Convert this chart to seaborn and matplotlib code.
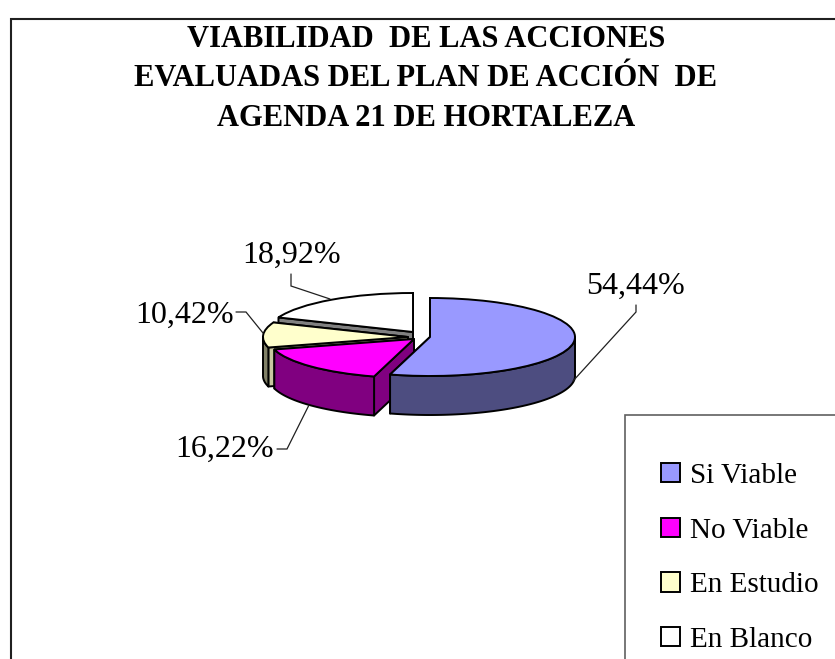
import numpy as np
import matplotlib
matplotlib.use("Agg")
import matplotlib.pyplot as plt
from matplotlib.patches import Polygon, Rectangle
import seaborn as sns

# ---- data ----
categories = ["Si Viable", "No Viable", "En Estudio", "En Blanco"]
values = [54.44, 16.22, 10.42, 18.92]
title_lines = ["VIABILIDAD  DE LAS ACCIONES",
               "EVALUADAS DEL PLAN DE ACCIÓN  DE",
               "AGENDA 21 DE HORTALEZA"]

# ---- styles ----
top_colors = ["#9999FF", "#FF00FF", "#FFFFCC", "#FFFFFF"]
wall_colors = ["#4D4D80", "#800080", "#808066", "#808080"]
cut_colors = ["#4D4D80", "#800080", "#C8C8A0", "#808080"]

# ---- layout (pixels) ----
W, H = 835, 659
CX, CY, RX, RY, DEPTH = 412.0, 336.0, 145.0, 39.0, 39.0
slice_shift = [(18, 1), (2, 3), (-4, 1), (1, -4)]
label_pos = [(636, 286), (225, 449), (185, 315), (292, 255)]
leaders = [[(573, 381), (636, 312), (636, 305)],
           [(309, 405), (287, 449), (277, 449)],
           [(263, 333), (246, 312), (236, 312)],
           [(330, 299), (291, 286), (291, 274)]]
legend_box = (625, 415)

sns.set_theme(style="white")
plt.rcParams["font.family"] = ["Liberation Serif", "DejaVu Serif"]

fig = plt.figure(figsize=(W / 100, H / 100), dpi=100)

# pixel-space layer: frame, title, labels, leaders
bg = fig.add_axes([0, 0, 1, 1], zorder=0)
bg.set_xlim(0, W)
bg.set_ylim(H, 0)
bg.axis("off")
bg.add_patch(Rectangle((11, 19), W + 20, H + 20, fc="white", ec="#202020", lw=1.5))
for i, line in enumerate(title_lines):
    bg.text(426, 39.5 + i * 39.5, line, ha="center", va="center",
            fontsize=22, fontweight="bold", color="black")

# pie layer: unit circle is squashed into the tilted ellipse
ax = fig.add_axes([0, 0, 1, 1], zorder=1)
ax.patch.set_alpha(0)
wedges, _ = ax.pie(values, startangle=90, counterclock=False, radius=1,
                   colors=sns.color_palette(top_colors),
                   wedgeprops=dict(edgecolor="black", linewidth=1.4))
ax.set_aspect("auto")
ax.set_xlim(-CX / RX, (W - CX) / RX)
ax.set_ylim((CY - H) / RY, CY / RY)
ax.axis("off")

edge = dict(edgecolor="black", linewidth=1.4, joinstyle="round")
d = DEPTH / RY
for i, w in enumerate(wedges):
    cx = w.center[0] + slice_shift[i][0] / RX
    cy = w.center[1] - slice_shift[i][1] / RY
    w.set_center((cx, cy))
    base = 10 + 10 * (len(wedges) - i)      # back slices first
    w.set_zorder(base + 3)
    t1, t2 = np.radians(w.theta1), np.radians(w.theta2)
    # radial cut faces
    for t in (t1, t2):
        px, py = cx + np.cos(t), cy + np.sin(t)
        ax.add_patch(Polygon([(cx, cy), (px, py), (px, py - d), (cx, cy - d)],
                             closed=True, fc=cut_colors[i], zorder=base + 1, **edge))
    # outer wall: only the front half of the rim shows
    th = np.linspace(t1, t2, 240)
    th = th[np.sin(th) <= 0]
    if th.size > 1:
        xs, ys = cx + np.cos(th), cy + np.sin(th)
        pts = np.r_[np.c_[xs, ys], np.c_[xs, ys - d][::-1]]
        ax.add_patch(Polygon(pts, closed=True, fc=wall_colors[i], zorder=base + 2, **edge))

# value labels and leaders on top
fg = fig.add_axes([0, 0, 1, 1], zorder=2)
fg.patch.set_alpha(0)
fg.set_xlim(0, W)
fg.set_ylim(H, 0)
fg.axis("off")
for v, pos, pts in zip(values, label_pos, leaders):
    fg.plot(*zip(*pts), color="#202020", lw=0.9, solid_joinstyle="miter")
    fg.text(pos[0], pos[1], f"{v:.2f}".replace(".", ",") + "%", ha="center", va="center",
            fontsize=23, color="black")

# legend: box runs off the figure edge
fg.add_patch(Rectangle(legend_box, W, H, fc="white", ec="#606060", lw=1.2))
fg.legend(wedges, categories, loc="upper left",
          bbox_to_anchor=(661 / W, 1 - 463 / H), bbox_transform=fig.transFigure,
          frameon=False, fontsize=21, handlelength=0.65, handleheight=0.65,
          handletextpad=0.35, labelspacing=0.98, borderpad=0, borderaxespad=0,
          labelcolor="black")

fig.savefig("out.png", dpi=100)
